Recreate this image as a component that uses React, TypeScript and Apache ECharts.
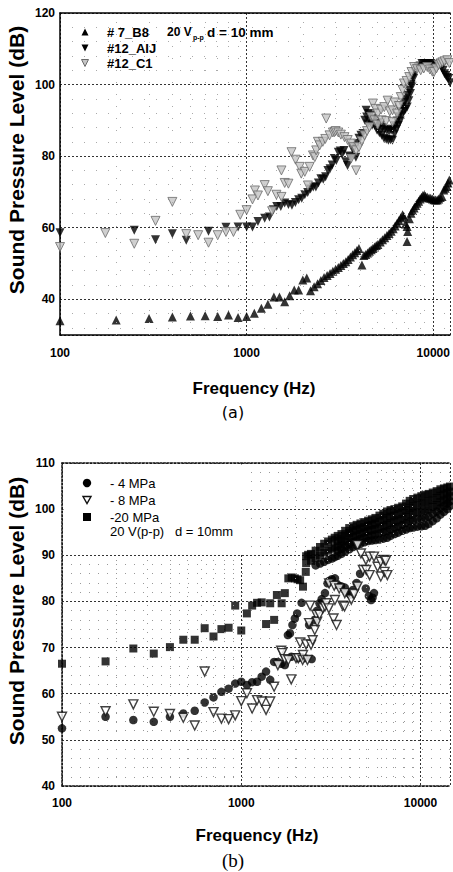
import React, { useEffect, useRef } from 'react';
import * as echarts from 'echarts';

const FONT = '"Liberation Sans", Arial, Helvetica, sans-serif';

// tick labels shown on the logarithmic frequency axes
const xTickLabels = ['100', '1000', '10000'];
// minor frequency grid positions (2..9 x each decade)
const minorFreqs = [200, 300, 400, 500, 600, 700, 800, 900, 2000, 3000, 4000, 5000, 6000, 7000, 8000, 9000];

// ---------- chart (a) : [frequency Hz, SPL dB] ----------
const b8Data = [
  [100, 34], [200, 34.2], [300, 34.6], [400, 35], [500, 35.3], [600, 35.4], [700, 35.2], [800, 35.6], [900, 34.9],
  [1000, 35.2], [1100, 36.1], [1200, 37.5], [1300, 38.6], [1400, 40.6], [1500, 40.6], [1600, 39.3], [1700, 41],
  [1800, 42.6], [1900, 42.6], [2000, 45.4], [2100, 45.9], [2200, 42.4], [2300, 43.5], [2400, 44.3], [2500, 45.2],
  [2600, 46.1], [2700, 46.6], [2800, 47.2], [2900, 47.8], [3000, 48.4], [3100, 48.9], [3200, 49.4], [3300, 50],
  [3400, 50.5], [3500, 51.1], [3600, 51.8], [3700, 52.4], [3800, 53], [3900, 53.6], [4000, 54.2], [4150, 49.6],
  [4250, 52.2], [4350, 52.5], [4450, 52.9], [4550, 53.4], [4650, 53.8], [4750, 54.2], [4850, 54.6], [4950, 55],
  [5050, 55.3], [5200, 56], [5350, 56.6], [5500, 57.2], [5650, 57.8], [5800, 58.4], [5950, 59], [6100, 59.7],
  [6250, 60.5], [6400, 61.2], [6550, 62], [6700, 62.8], [6850, 63.6], [6950, 63.2], [7100, 61], [7240, 60.3],
  [7240, 56.1], [7300, 58.9], [7450, 62.5], [7600, 64], [7750, 64.8], [7900, 65.5], [8050, 66.2], [8200, 66.8],
  [8350, 67.4], [8500, 68], [8650, 68.5], [8800, 69], [8950, 69.1], [9100, 68.8], [9300, 68.5], [9500, 68.3],
  [9700, 68.2], [9900, 68], [10100, 67.8], [10300, 67.7], [10500, 67.7], [10700, 68], [10900, 68.4], [11150, 68.7],
  [11400, 70.5], [11600, 71], [11850, 71.5], [12000, 72.5], [12200, 73.3],
];

const aijData = [
  [100, 58.6], [250, 59.3], [325, 56.6], [400, 58.3], [475, 56.5], [625, 59], [775, 60.1], [900, 60.2], [1000, 60.2],
  [1075, 60.2], [1150, 61.7], [1250, 62.6], [1325, 63], [1390, 65], [1450, 65.9], [1525, 65.9], [1600, 66.9],
  [1675, 66.5], [1750, 66.3], [1825, 67], [1900, 67.8], [1975, 68.2], [2050, 69.2], [2125, 69.8], [2200, 70.8],
  [2275, 71.4], [2350, 71.4], [2425, 72.5], [2500, 73.7], [2575, 73.5], [2650, 74.2], [2725, 76], [2800, 76.5],
  [2875, 77.5], [2950, 79.3], [3025, 78.8], [3100, 81.1], [3175, 81.4], [3250, 80.5], [3325, 81.6], [3400, 78.4],
  [3475, 77.4], [3550, 80], [3625, 79.7], [3700, 82], [3775, 82.5], [3850, 79.7], [3925, 83.5], [4000, 85],
  [4100, 85.8], [4200, 86.3], [4300, 90], [4370, 92.8], [4400, 90.9], [4500, 91.9], [4600, 89.5], [4700, 88.6],
  [4850, 88.6], [5000, 87.2], [5150, 86.5], [5300, 85.8], [5450, 85], [5600, 84.7], [5750, 84.4], [5900, 84.6],
  [6050, 84.4], [6200, 86.2], [6350, 87.5], [6500, 88.6], [6650, 89.8], [6800, 91.4], [6950, 92.5], [7100, 93],
  [7250, 93.7], [7400, 95.5], [7550, 97.5], [7700, 99.5], [7850, 101.7], [8000, 103.5], [8150, 104.5], [8300, 104.9],
  [8500, 105.2], [8700, 105.9], [8900, 105.9], [9100, 105.9], [9300, 105.9], [9500, 105.9], [9700, 105.9],
  [9900, 105.5], [10100, 105], [10300, 104.9], [10500, 104.9], [10700, 105.5], [10900, 105.9], [11100, 104.8],
  [11300, 104], [11500, 103], [11700, 102.5], [11900, 102], [12100, 101.7], [12300, 100.5],
];
// second, overlapping sweep of #12_AIJ in the 4.4-7.8 kHz band
const aijUpper = [
  [4450, 89], [4600, 91.5], [4750, 90.5], [4900, 90], [5050, 89.3], [5200, 88.6], [5350, 88], [5500, 87.5],
  [5650, 87.2], [5800, 87], [5950, 87.2], [6100, 87.5], [6250, 88.5], [6400, 89.8], [6550, 91], [6700, 92.5],
  [6850, 94], [7000, 95], [7150, 96], [7300, 97], [7450, 98.5], [7600, 100], [7750, 102],
];

const c1Data = [
  [100, 54.6], [175, 58.5], [250, 55.5], [325, 61.9], [400, 67.2], [475, 58.2], [550, 57.9], [625, 55.8], [700, 57.9],
  [775, 58.8], [850, 58.8], [925, 63.6], [1000, 64.9], [1075, 67.9], [1108, 70.4], [1150, 69], [1250, 71.9],
  [1300, 70.2], [1370, 64.6], [1445, 69.2], [1537, 76], [1537, 68.6], [1600, 72.5], [1675, 72.3], [1740, 81.1],
  [1830, 79], [1926, 77], [1963, 75.1], [2050, 75.6], [2130, 71.8], [2176, 77], [2268, 80.2], [2320, 79.7],
  [2360, 81.6], [2410, 84], [2463, 83], [2560, 84], [2640, 84.8], [2670, 90.5], [2782, 85.8], [2900, 86.6],
  [2960, 86.7], [3000, 87], [3100, 86.6], [3200, 86], [3345, 85.3], [3480, 84.5], [3628, 83.5], [3630, 79.3],
  [3750, 82.5], [3862, 81.6], [3862, 76], [4000, 82.5], [4140, 84.2], [4283, 85.8], [4420, 87], [4554, 88.1],
  [4650, 91], [4751, 94.7], [4850, 90], [4900, 93.2], [5040, 91.9], [5040, 88.8], [5250, 93], [5300, 90],
  [5467, 93.7], [5600, 89.8], [5700, 95.5], [5850, 92.5], [6053, 92.8], [6053, 89.5], [6200, 95], [6400, 91.9],
  [6550, 94], [6700, 96.5], [6850, 98.5], [6970, 100.3], [7200, 101], [7440, 102.1], [7650, 103.5], [7900, 104.9],
  [8200, 104.3], [8570, 104], [8900, 104.5], [9300, 104.9], [9600, 104.2], [9900, 103.6], [10100, 103.5],
  [10400, 104.5], [10700, 105.5], [10950, 105.9], [11200, 106.2], [11500, 106.5], [11900, 106.8], [12200, 106],
];

// ---------- chart (b) : [frequency Hz, SPL dB] ----------
const mpa4Data = [
  [100, 52.5], [175, 55], [250, 54.3], [325, 53.9], [400, 55], [475, 55.7], [550, 56.3], [625, 58.1], [700, 59.2],
  [775, 60.4], [850, 61.1], [925, 62.2], [1000, 62.6], [1075, 61.9], [1150, 62.5], [1225, 62.6], [1300, 63.7],
  [1375, 64.8], [1450, 63], [1525, 66.9], [1600, 66.9], [1675, 66.5], [1750, 66.2], [1820, 72.7], [1870, 73.1],
  [1900, 68], [1930, 74.9], [1990, 76.3], [2050, 77.4], [2080, 67.7], [2170, 79.7], [2250, 67.7], [2390, 74.9],
  [2470, 67.5], [2570, 76], [2650, 78], [2730, 79.6], [2810, 80.5], [2930, 81.8], [3030, 83.9], [3100, 84.5],
  [3200, 84.8], [3330, 85], [3460, 83.6], [3600, 83.3], [3780, 83], [3900, 82], [4050, 81.5], [4200, 82.5],
  [4400, 84], [4600, 86], [4950, 82.8], [5150, 81.2], [5300, 80.3], [5400, 80.8], [5500, 81.8],
];
// lower part of the dense high-frequency cluster
const mpa4Band = [
  [2600, 87.8], [2750, 88.2], [2900, 88.6], [3050, 89], [3200, 89.3], [3320, 89.6],
  [3450, 91], [3620, 91.4], [3800, 91.9], [4000, 92.4], [4200, 92.9], [4400, 93.2], [4620, 93.6], [4850, 93.9],
  [5100, 94.2], [5350, 94.3], [5600, 94.5], [5900, 94.7], [6200, 95], [6500, 95.2], [6800, 95.6], [7150, 96],
  [7500, 96.2], [7900, 96.6], [8300, 97], [8700, 97.4], [9100, 97.5], [9600, 97.8], [10100, 97.9], [10600, 98.1],
  [11100, 98.4], [11700, 99], [12300, 99.5], [12900, 100.2], [13500, 100.7], [14100, 101.2], [14600, 101.7],
  [3450, 89.9], [3620, 90.3], [3800, 90.8], [4000, 91.3], [4200, 91.8], [4400, 92.1], [4620, 92.5], [4850, 92.8],
  [5100, 93.1], [5350, 93.2], [5600, 93.3], [5900, 93.4], [6200, 93.6], [6500, 93.8], [6800, 94.2], [7150, 94.6],
  [7500, 94.9], [7900, 95.3], [8300, 95.6], [8700, 95.9], [9100, 96], [9600, 96.2], [10100, 96.3], [10600, 96.4],
  [11100, 96.8], [11700, 97.4], [12300, 98], [12900, 98.8], [13500, 99.4], [14100, 100], [14600, 100.7],
];

const mpa8Data = [
  [100, 55], [175, 56.2], [250, 57.7], [325, 56.1], [400, 55.6], [475, 54.8], [550, 53.1], [625, 64.8], [700, 56],
  [775, 54.6], [850, 54.5], [925, 55.3], [1000, 58.4], [1075, 60.1], [1150, 56.8], [1225, 58.6], [1300, 58.3],
  [1375, 56.5], [1450, 58.3], [1525, 61.5], [1600, 66.2], [1670, 69.3], [1690, 68.8], [1750, 67.5], [1830, 67.3],
  [1900, 63.1], [2020, 67.7], [2080, 67.7], [2130, 71.1], [2200, 67.3], [2210, 68.4], [2300, 70.7], [2340, 67.3],
  [2390, 75.3], [2420, 79.1], [2450, 70.6], [2500, 71.6], [2570, 73.8], [2620, 77.1], [2650, 75.6], [2730, 77.1],
  [2850, 78.5], [2930, 78.9], [2980, 79.6], [3080, 78.5], [3090, 83.9], [3270, 76.3], [3300, 83.4], [3330, 80.3],
  [3400, 74.9], [3520, 82.8], [3680, 79.1], [3770, 78.9], [3780, 81.8], [4110, 80.4], [4200, 81.8], [4260, 81.6],
  [4450, 83.2], [4450, 92.2], [4650, 90.4], [4770, 86.8], [4960, 89], [4980, 86.8], [5200, 89.7], [5200, 85.7],
  [5500, 89.7], [5760, 87.5], [6000, 88.6], [6000, 85.4], [6280, 89], [6300, 86.4], [6400, 88.8], [6530, 85.7],
];

const mpa20Low = [
  [100, 66.5], [175, 67], [250, 69.8], [325, 68.7], [400, 70.1], [475, 71.7], [550, 71.7], [625, 74.2], [700, 72.4],
  [775, 74], [850, 74.3], [925, 79.1], [1000, 73.7], [1075, 77.4], [1150, 79.1], [1225, 79.7], [1300, 79.8],
  [1375, 75.1], [1450, 79.6], [1525, 76], [1580, 81.4], [1680, 79.6], [1750, 81.8], [1830, 85], [1910, 85.2],
  [1990, 85], [2060, 84.8], [2130, 84.6], [2210, 83.2], [2290, 86.4], [2360, 90.1],
];
// upper part of the dense high-frequency cluster
const mpa20Band = [
  [2300, 89.8], [2450, 90.3], [2600, 91], [2750, 91.8], [2900, 92.5], [3050, 93], [3200, 93.4], [3320, 93.8],
  [2300, 88.3], [2450, 88.8], [2600, 89.4], [2750, 90], [2900, 90.6], [3050, 91], [3200, 91.4], [3320, 91.7],
  [3450, 94.2], [3620, 94.6], [3800, 95.3], [4000, 95.9], [4200, 96.3], [4400, 96.6], [4620, 96.9], [4850, 97.2],
  [5100, 97.5], [5350, 97.8], [5600, 98.1], [5900, 98.6], [6200, 99], [6500, 99.5], [6800, 99.8], [7150, 100],
  [7500, 100.3], [7900, 100.6], [8300, 101.2], [8700, 101.8], [9100, 102.2], [9600, 102.5], [10100, 102.8],
  [10600, 103.1], [11100, 103.3], [11700, 103.6], [12300, 103.9], [12900, 104.3], [13500, 104.5], [14100, 104.7],
  [14600, 104.9],
  [3450, 93.1], [3620, 93.5], [3800, 94.2], [4000, 94.8], [4200, 95.2], [4400, 95.5], [4620, 95.8], [4850, 96.1],
  [5100, 96.4], [5350, 96.6], [5600, 96.9], [5900, 97.3], [6200, 97.6], [6500, 98.1], [6800, 98.4], [7150, 98.6],
  [7500, 98.9], [7900, 99.3], [8300, 99.8], [8700, 100.3], [9100, 100.6], [9600, 100.9], [10100, 101.2],
  [10600, 101.4], [11100, 101.7], [11700, 102], [12300, 102.4], [12900, 102.9], [13500, 103.2], [14100, 103.5],
  [14600, 103.8],
  [3450, 92], [3620, 92.4], [3800, 93], [4000, 93.6], [4200, 94], [4400, 94.3], [4620, 94.7], [4850, 95],
  [5100, 95.3], [5350, 95.5], [5600, 95.7], [5900, 96], [6200, 96.3], [6500, 96.6], [6800, 97], [7150, 97.3],
  [7500, 97.6], [7900, 97.9], [8300, 98.4], [8700, 98.8], [9100, 99.1], [9600, 99.3], [10100, 99.5],
  [10600, 99.7], [11100, 100], [11700, 100.5], [12300, 100.9], [12900, 101.5], [13500, 101.9], [14100, 102.3],
  [14600, 102.8],
];

const DOWN_TRI = 'path://M0,0L10,0L5,9Z';

const majorLine = { color: '#333', type: [2, 2] as number[], width: 1 };
const minorLineA = { color: '#aaa', type: [1, 11] as number[], width: 1 };
const minorLineB = { color: '#999', type: [1, 8] as number[], width: 1 };
const solidAxis = { color: '#000', width: 1.5 };
const dottedAxis = { color: '#111', width: 1.5, type: [2, 1.5] as number[] };

const xLabel = (margin: number) => ({
  margin,
  color: '#000',
  fontFamily: FONT,
  fontWeight: 'bold',
  fontSize: 12,
  formatter: (v: number) => {
    const s = String(Math.round(v));
    return xTickLabels.includes(s) ? s : '';
  },
});
const yLabel = (margin: number, showMin: boolean) => ({
  margin,
  color: '#000',
  fontFamily: FONT,
  fontWeight: 'bold',
  fontSize: 12,
  showMinLabel: showMin,
});

const minorMarkSeries = (axisIdx: number, lineStyle: any) => ({
  type: 'scatter',
  xAxisIndex: axisIdx,
  yAxisIndex: axisIdx,
  data: [],
  silent: true,
  markLine: {
    silent: true,
    symbol: ['none', 'none'],
    label: { show: false },
    emphasis: { disabled: true },
    lineStyle,
    data: minorFreqs.map((f) => ({ xAxis: f })),
  },
});

const txt = (text: string, x: number, y: number, font: string, align = 'left', rotation = 0) => ({
  type: 'text',
  x,
  y,
  rotation,
  z: 110,
  silent: true,
  style: {
    text,
    x: 0,
    y: 0,
    font,
    fill: '#000',
    align,
    verticalAlign: 'middle',
    textAlign: align,
    textVerticalAlign: 'middle',
  },
});

const key = (el: any) => ({ ...el, z: 110, silent: true });

const option = {
  animation: false,
  backgroundColor: '#fff',
  grid: [
    { left: 60, top: 13, right: 0, bottom: 537 },
    { left: 62, top: 463, right: 0, bottom: 86 },
  ],
  xAxis: [
    {
      gridIndex: 0, type: 'log', logBase: 10, min: 100, max: 12300,
      axisLine: { show: true, lineStyle: solidAxis }, axisTick: { show: false },
      axisLabel: xLabel(12), splitLine: { show: true, lineStyle: majorLine },
    },
    {
      gridIndex: 1, type: 'log', logBase: 10, min: 100, max: 14600,
      axisLine: { show: true, lineStyle: dottedAxis }, axisTick: { show: false },
      axisLabel: xLabel(11), splitLine: { show: true, lineStyle: majorLine },
    },
    {
      gridIndex: 0, type: 'value', position: 'top', min: 0, max: 1,
      axisLine: { show: true, lineStyle: solidAxis }, axisTick: { show: false },
      axisLabel: { show: false }, splitLine: { show: false },
    },
    {
      gridIndex: 1, type: 'value', position: 'top', min: 0, max: 1,
      axisLine: { show: true, lineStyle: dottedAxis }, axisTick: { show: false },
      axisLabel: { show: false }, splitLine: { show: false },
    },
  ],
  yAxis: [
    {
      gridIndex: 0, type: 'value', min: 30, max: 120,
      axisLine: { show: true, lineStyle: solidAxis }, axisTick: { show: false },
      axisLabel: yLabel(5, false), splitLine: { show: true, lineStyle: majorLine },
      minorTick: { show: false, splitNumber: 5 },
      minorSplitLine: { show: true, lineStyle: minorLineA },
    },
    {
      gridIndex: 1, type: 'value', min: 40, max: 110, interval: 10,
      axisLine: { show: true, lineStyle: dottedAxis }, axisTick: { show: false },
      axisLabel: yLabel(7, true), splitLine: { show: true, lineStyle: majorLine },
      minorTick: { show: false, splitNumber: 5 },
      minorSplitLine: { show: true, lineStyle: minorLineB },
    },
  ],
  graphic: {
    elements: [
      // opaque legend box of chart (b)
      { type: 'rect', z: 100, silent: true, shape: { x: 63.5, y: 464.5, width: 180, height: 90 }, style: { fill: '#fff' } },
      // legend (a)
      key({ type: 'polygon', shape: { points: [[81.5, 35.5], [88.5, 35.5], [85, 28.5]] }, style: { fill: '#000' } }),
      key({ type: 'polygon', shape: { points: [[81.5, 44.5], [88.5, 44.5], [85, 51.5]] }, style: { fill: '#000' } }),
      key({ type: 'polygon', shape: { points: [[81.5, 59.5], [88.5, 59.5], [85, 66.5]] }, style: { fill: '#c4c4c4', stroke: '#6a6a6a', lineWidth: 1 } }),
      txt('# 7_B8', 107, 32, `bold 13px ${FONT}`),
      txt('#12_AIJ', 107, 48, `bold 13px ${FONT}`),
      txt('#12_C1', 107, 63, `bold 13px ${FONT}`),
      txt('20 V', 167, 32, `bold 12px ${FONT}`),
      txt('p-p', 193, 37, `bold 7px ${FONT}`),
      txt('d = 10 mm', 207, 32, `bold 13.5px ${FONT}`),
      txt('Sound Pressure Level (dB)', 16, 160, `bold 21px ${FONT}`, 'center', Math.PI / 2),
      txt('Frequency (Hz)', 254, 388, `bold 17px ${FONT}`, 'center'),
      txt('(a)', 233, 412, `16px "DejaVu Sans", sans-serif`, 'center'),
      // legend (b)
      key({ type: 'circle', shape: { cx: 87, cy: 483, r: 4.2 }, style: { fill: '#000' } }),
      key({ type: 'polygon', shape: { points: [[83, 496.5], [91, 496.5], [87, 503.5]] }, style: { fill: '#fff', stroke: '#111', lineWidth: 1.4 } }),
      key({ type: 'rect', shape: { x: 83, y: 513, width: 8, height: 8 }, style: { fill: '#000' } }),
      txt('- 4 MPa', 110, 483, `13px ${FONT}`),
      txt('- 8 MPa', 110, 500, `13px ${FONT}`),
      txt('-20 MPa', 110, 517, `13px ${FONT}`),
      txt('20 V(p-p)   d = 10mm', 110, 531, `13px ${FONT}`),
      txt('Sound Pressure Level (dB)', 16, 611, `bold 21px ${FONT}`, 'center', Math.PI / 2),
      txt('Frequency (Hz)', 257, 835, `bold 17px ${FONT}`, 'center'),
      txt('(b)', 233, 860, `19px "Liberation Serif", serif`, 'center'),
    ],
  },
  series: [
    minorMarkSeries(0, minorLineA),
    minorMarkSeries(1, minorLineB),
    {
      name: '# 7_B8', type: 'scatter', xAxisIndex: 0, yAxisIndex: 0, data: b8Data,
      symbol: 'triangle', symbolSize: 9, itemStyle: { color: '#000' },
    },
    {
      name: '#12_AIJ', type: 'scatter', xAxisIndex: 0, yAxisIndex: 0, data: [...aijData, ...aijUpper],
      symbol: DOWN_TRI, symbolSize: 9, itemStyle: { color: '#000' },
    },
    {
      name: '#12_C1', type: 'scatter', xAxisIndex: 0, yAxisIndex: 0, data: c1Data,
      symbol: DOWN_TRI, symbolSize: 9, itemStyle: { color: '#c4c4c4', borderColor: '#6a6a6a', borderWidth: 1 },
    },
    {
      name: '- 4 MPa', type: 'scatter', xAxisIndex: 1, yAxisIndex: 1, data: [...mpa4Data, ...mpa4Band],
      symbol: 'circle', symbolSize: 8.5, itemStyle: { color: '#000' },
    },
    {
      name: '-20 MPa', type: 'scatter', xAxisIndex: 1, yAxisIndex: 1, data: [...mpa20Low, ...mpa20Band],
      symbol: 'rect', symbolSize: 8, itemStyle: { color: '#000' },
    },
    {
      name: '- 8 MPa', type: 'scatter', xAxisIndex: 1, yAxisIndex: 1, data: mpa8Data,
      symbol: DOWN_TRI, symbolSize: 9, itemStyle: { color: '#fff', borderColor: '#111', borderWidth: 1.4 },
    },
  ],
};

export default function App() {
  const ref = useRef<HTMLDivElement>(null);
  useEffect(() => {
    const chart = echarts.init(ref.current as HTMLDivElement, null, { renderer: 'svg' });
    chart.setOption(option as any);
    return () => chart.dispose();
  }, []);
  return (
    <div
      ref={ref}
      style={{ position: 'fixed', left: 0, top: 0, width: 453, height: 872, background: '#fff' }}
    />
  );
}
